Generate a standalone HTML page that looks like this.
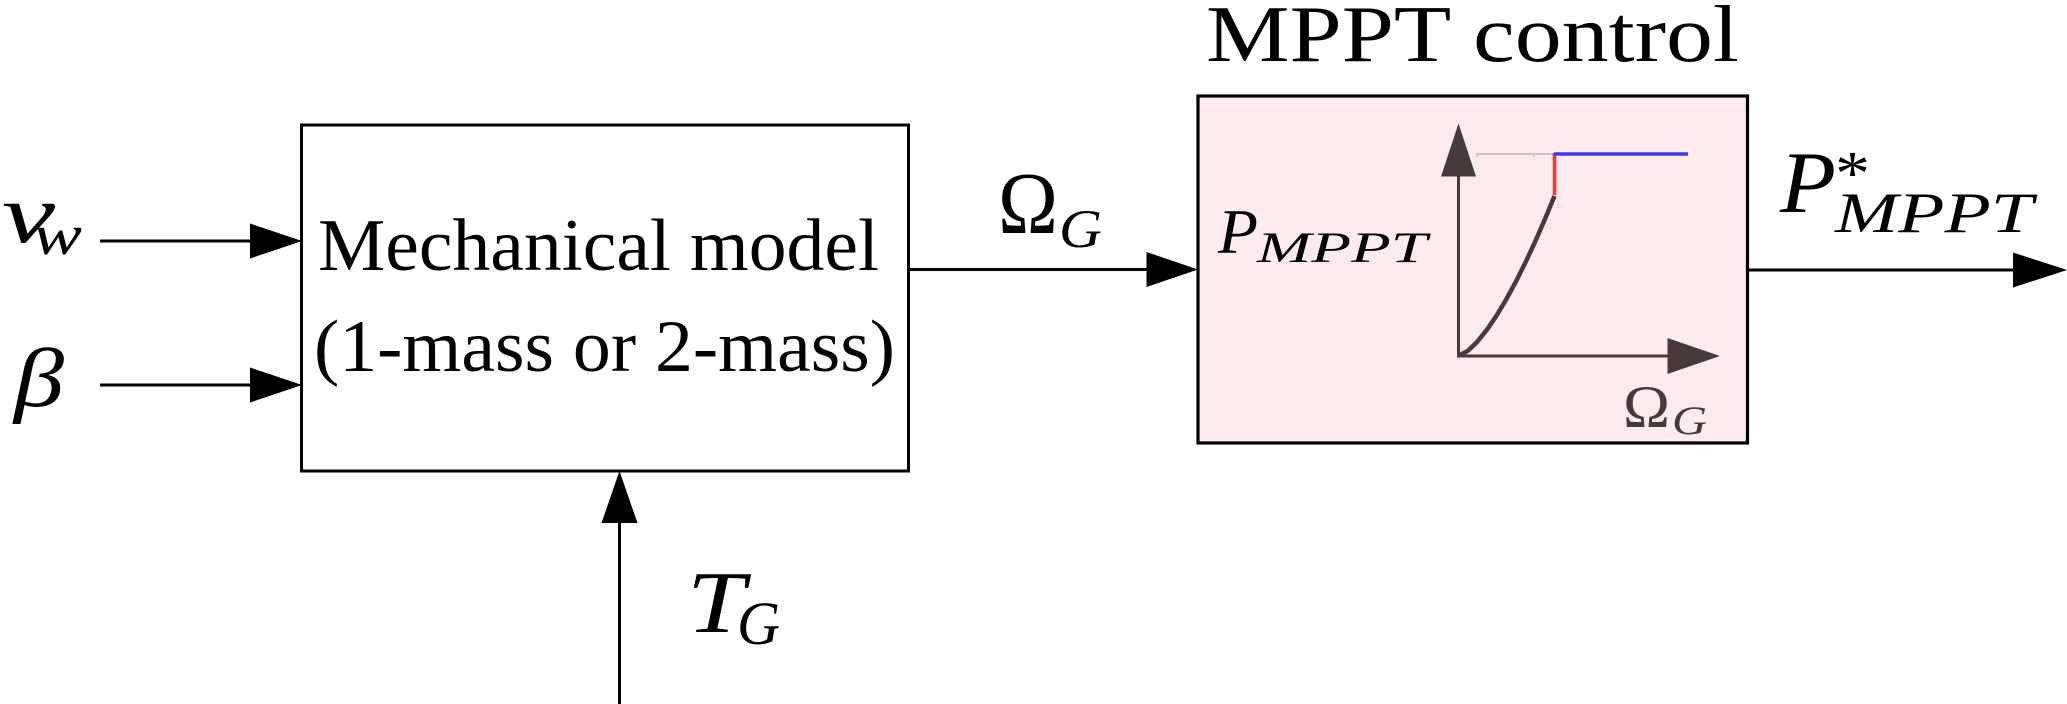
<!DOCTYPE html>
<html>
<head>
<meta charset="utf-8">
<style>
  html,body{margin:0;padding:0;background:#fff;}
  svg{display:block;}
  text{font-family:"Liberation Serif","DejaVu Serif",serif;}
  .it{font-style:italic;}
</style>
</head>
<body>
<svg width="2067" height="704" viewBox="0 0 2067 704" xmlns="http://www.w3.org/2000/svg">
  <!-- Box 1 -->
  <rect x="301.5" y="125" width="607" height="346" fill="#ffffff" stroke="#000" stroke-width="3"/>
  <!-- Box 2 -->
  <rect x="1198" y="96" width="549.5" height="347" fill="#ffebee" stroke="#000" stroke-width="3.2"/>

  <!-- v_w arrow -->
  <line x1="100" y1="241" x2="252" y2="241" stroke="#000" stroke-width="3"/>
  <polygon points="250,223.5 302,241 250,258.5" fill="#000"/>
  <!-- beta arrow -->
  <line x1="100" y1="385" x2="252" y2="385" stroke="#000" stroke-width="3"/>
  <polygon points="250,367.5 302,385 250,402.5" fill="#000"/>
  <!-- Omega arrow -->
  <line x1="909" y1="269.5" x2="1150" y2="269.5" stroke="#000" stroke-width="3"/>
  <polygon points="1146.5,252 1198,269.5 1146.5,287" fill="#000"/>
  <!-- Output arrow -->
  <line x1="1747" y1="270" x2="2015" y2="270" stroke="#000" stroke-width="3"/>
  <polygon points="2013,252.5 2067,270 2013,287.5" fill="#000"/>
  <!-- T_G arrow -->
  <line x1="619.5" y1="704" x2="619.5" y2="520" stroke="#000" stroke-width="3"/>
  <polygon points="601.5,523 619.5,471 637.5,523" fill="#000"/>

  <!-- Chart -->
  <line x1="1476" y1="154" x2="1555" y2="154" stroke="#b9aeb0" stroke-width="1.3"/>
  <line x1="1477" y1="154" x2="1477" y2="157" stroke="#b9aeb0" stroke-width="1"/>
  <line x1="1534" y1="154" x2="1534" y2="157" stroke="#b9aeb0" stroke-width="1"/>
  <line x1="1458.5" y1="357" x2="1458.5" y2="174" stroke="#473a3b" stroke-width="3"/>
  <polygon points="1441,176.5 1458.5,123.5 1476,176.5" fill="#473a3b"/>
  <line x1="1457" y1="356" x2="1670" y2="356" stroke="#473a3b" stroke-width="3"/>
  <polygon points="1667.5,338 1720,356 1667.5,374" fill="#473a3b"/>
  <polyline points="1458,356 1467.65,350.94 1477.3,341.7 1486.95,329.7 1496.6,315.5 1506.25,299.4 1515.9,281.6 1525.55,262.3 1535.2,241.5 1544.85,219.4 1554.5,196" fill="none" stroke="#473a3b" stroke-width="4.5" stroke-linejoin="round"/>
  <line x1="1554.5" y1="153" x2="1554.5" y2="195" stroke="#ff3535" stroke-width="3.6"/>
  <line x1="1554" y1="154" x2="1688" y2="154" stroke="#3d3df5" stroke-width="3.6"/>

  <!-- Texts -->
  <text x="1206" y="61" font-size="80" textLength="533" lengthAdjust="spacingAndGlyphs">MPPT control</text>
  <text x="318" y="270" font-size="74" textLength="561" lengthAdjust="spacingAndGlyphs">Mechanical model</text>
  <text x="314" y="371" font-size="74" textLength="581" lengthAdjust="spacingAndGlyphs">(1-mass or 2-mass)</text>

  <!-- v_w -->
  <text class="it" x="2" y="242" font-size="84" textLength="53" lengthAdjust="spacingAndGlyphs">v</text>
  <text class="it" x="33" y="254" font-size="57" textLength="49" lengthAdjust="spacingAndGlyphs">w</text>
  <!-- beta -->
  <text class="it" x="14" y="406" font-size="84" textLength="50" lengthAdjust="spacingAndGlyphs">β</text>
  <!-- Omega_G -->
  <text x="998" y="233" font-size="88" textLength="60" lengthAdjust="spacingAndGlyphs">Ω</text>
  <text class="it" x="1059" y="247" font-size="54" textLength="43" lengthAdjust="spacingAndGlyphs">G</text>
  <!-- T_G -->
  <text class="it" x="687" y="632" font-size="88" textLength="58" lengthAdjust="spacingAndGlyphs">T</text>
  <text class="it" x="737" y="644" font-size="61" textLength="43" lengthAdjust="spacingAndGlyphs">G</text>
  <!-- P_MPPT inside -->
  <text class="it" x="1218" y="253" font-size="63" textLength="40" lengthAdjust="spacingAndGlyphs">P</text>
  <text class="it" x="1257" y="262" font-size="43" textLength="170" lengthAdjust="spacingAndGlyphs">MPPT</text>
  <!-- P*_MPPT -->
  <text class="it" x="1780" y="212" font-size="88" textLength="56" lengthAdjust="spacingAndGlyphs">P</text>
  <text x="1835" y="194" font-size="62" textLength="35" lengthAdjust="spacingAndGlyphs">*</text>
  <text class="it" x="1835" y="232" font-size="57" textLength="198" lengthAdjust="spacingAndGlyphs">MPPT</text>
  <!-- Omega_G in chart -->
  <text x="1623" y="427" font-size="60" fill="#473a3b" textLength="47" lengthAdjust="spacingAndGlyphs">Ω</text>
  <text class="it" x="1672" y="434" font-size="40" fill="#473a3b" textLength="35" lengthAdjust="spacingAndGlyphs">G</text>
</svg>
</body>
</html>
